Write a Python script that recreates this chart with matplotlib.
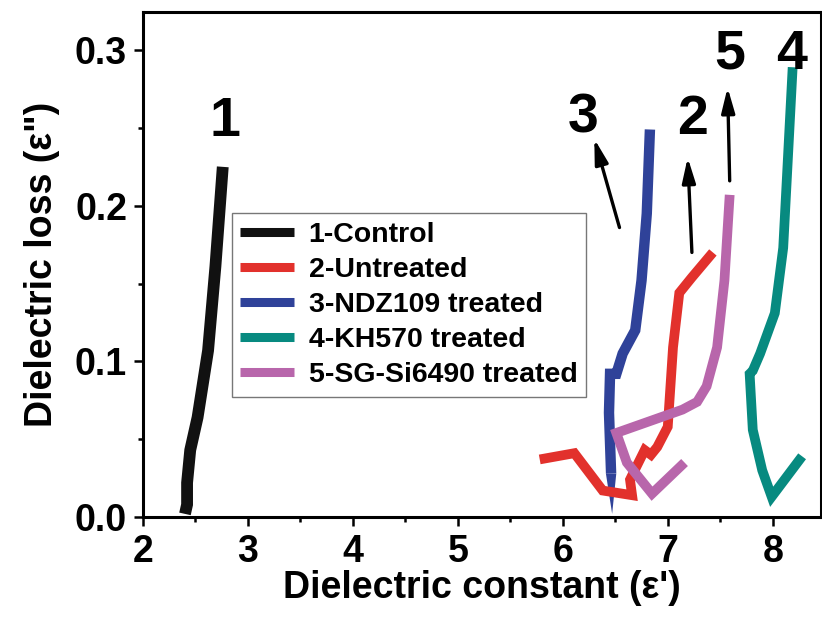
import matplotlib
matplotlib.use("Agg")
import matplotlib.pyplot as plt
from matplotlib.ticker import MultipleLocator

# ----------------
# Data
# ----------------
ctrl_x = [2.76, 2.69, 2.62, 2.52, 2.45, 2.42, 2.42, 2.40]
ctrl_y = [0.225, 0.161, 0.107, 0.064, 0.043, 0.022, 0.008, 0.002]

untr_x = [5.78, 6.11, 6.38, 6.66, 6.64, 6.78, 6.84, 6.90, 7.00, 7.05, 7.11, 7.23, 7.43]
untr_y = [0.037, 0.041, 0.017, 0.014, 0.024, 0.043, 0.040, 0.045, 0.058, 0.109, 0.144, 0.154, 0.170]

ndz_x = [6.83, 6.80, 6.75, 6.69, 6.57, 6.51, 6.45, 6.44, 6.46, 6.47]
ndz_y = [0.249, 0.195, 0.152, 0.120, 0.105, 0.092, 0.092, 0.067, 0.028, 0.002]

kh_x = [8.19, 8.10, 8.02, 7.88, 7.81, 7.78, 7.81, 7.90, 7.99, 8.28]
kh_y = [0.289, 0.173, 0.131, 0.105, 0.094, 0.092, 0.056, 0.030, 0.013, 0.039]

sg_x = [7.59, 7.54, 7.47, 7.37, 7.28, 7.14, 6.51, 6.61, 6.85, 7.16]
sg_y = [0.207, 0.152, 0.109, 0.084, 0.074, 0.069, 0.054, 0.035, 0.015, 0.035]

labels = ["1-Control", "2-Untreated", "3-NDZ109 treated", "4-KH570 treated", "5-SG-Si6490 treated"]
colors = ["#111111", "#e2312c", "#2f4299", "#078a80", "#b866ab"]

# curve numbers and arrows
num_text = ["1", "3", "2", "5", "4"]
num_x = [2.78, 6.19, 7.24, 7.59, 8.18]
num_y = [0.254, 0.256, 0.255, 0.297, 0.297]

arrow_tail = [(6.54, 0.186), (7.23, 0.170), (7.59, 0.216)]
arrow_head = [(6.30, 0.243), (7.19, 0.231), (7.57, 0.276)]

# ----------------
# Plot
# ----------------
plt.rcParams["font.family"] = ["Liberation Sans", "DejaVu Sans"]
plt.rcParams["font.weight"] = "bold"

fig = plt.figure(figsize=(8.22, 6.22), dpi=100)
ax = fig.add_axes([143 / 822, 105 / 622, 678 / 822, 505 / 622])

series = [(ctrl_x, ctrl_y), (untr_x, untr_y), (ndz_x, ndz_y), (kh_x, kh_y), (sg_x, sg_y)]
widths = [8.5, 7.0, 7.5, 7.0, 7.0]
for i, ((xs, ys), lab, col, lw) in enumerate(zip(series, labels, colors, widths)):
    if i == 2:
        # blue curve tapers to a point at the bottom
        ax.plot(xs[:-1], ys[:-1], color=col, lw=lw, label=lab,
                solid_joinstyle="miter", solid_capstyle="butt")
        hw = lw * 100 / 72 / 2 / 105  # half line width in data x units
        ax.fill([xs[-2] - hw, xs[-2] + hw, xs[-1]], [ys[-2], ys[-2], ys[-1]],
                color=col, lw=0)
    else:
        ax.plot(xs, ys, color=col, lw=lw, label=lab,
                solid_joinstyle="miter", solid_capstyle="butt")

for t, x, y in zip(num_text, num_x, num_y):
    ax.text(x, y, t, fontsize=40, fontweight="bold", ha="center", va="center")

for tail, head in zip(arrow_tail, arrow_head):
    ax.annotate("", xy=head, xytext=tail,
                arrowprops=dict(arrowstyle="-|>,head_length=0.75,head_width=0.2",
                                color="black", lw=2.4,
                                mutation_scale=20, shrinkA=0, shrinkB=0))

ax.set_xlim(2, 8.46)
ax.set_ylim(0, 0.3245)
ax.xaxis.set_major_locator(MultipleLocator(1))
ax.xaxis.set_minor_locator(MultipleLocator(0.5))
ax.yaxis.set_major_locator(MultipleLocator(0.1))
ax.yaxis.set_minor_locator(MultipleLocator(0.05))
ax.tick_params(which="major", direction="out", length=6.5, width=1.8, labelsize=27)
ax.tick_params(which="minor", direction="out", length=3.5, width=1.8)
ax.tick_params(axis="x", pad=6)
ax.tick_params(axis="y", pad=5)
for s in ax.spines.values():
    s.set_linewidth(2.2)

ax.set_xlabel("Dielectric constant (\u03b5')", fontsize=27, fontweight="bold", labelpad=0)
ax.set_ylabel("Dielectric loss (\u03b5\")", fontsize=27, fontweight="bold", labelpad=11)

leg = ax.legend(loc="upper left", bbox_to_anchor=(0.131, 0.602), borderaxespad=0,
                fontsize=20.5, frameon=True, fancybox=False, edgecolor="#555555",
                handlelength=1.9, handletextpad=0.5, labelspacing=0.32,
                borderpad=0.3)
leg.get_frame().set_linewidth(1.0)
for h in leg.get_lines():
    h.set_linewidth(6.5)

fig.savefig("out.png", dpi=100)
